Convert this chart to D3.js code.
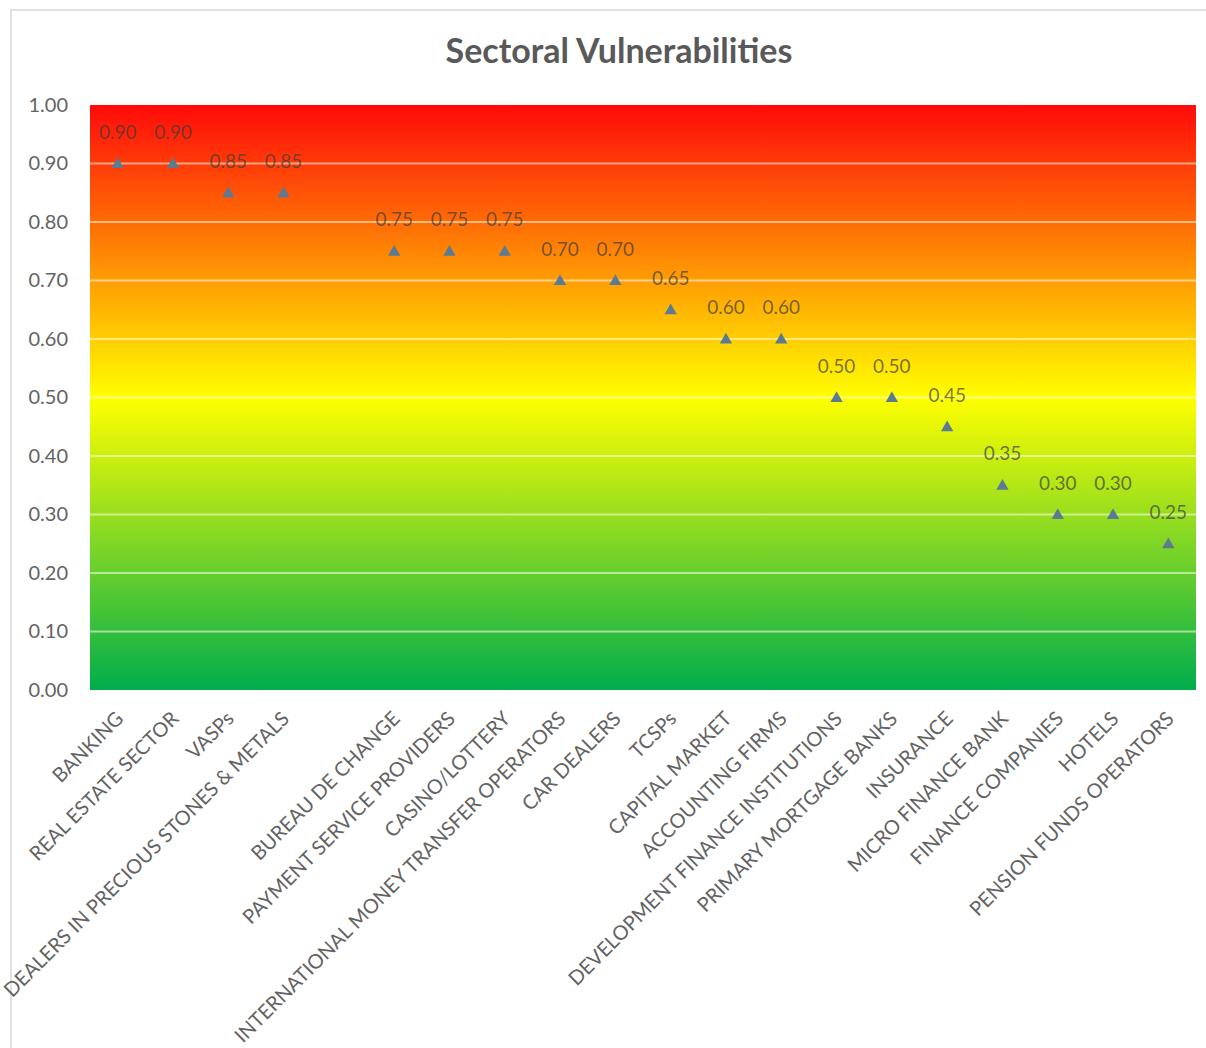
<!DOCTYPE html>
<html>
<head>
<meta charset="utf-8">
<script src="https://cdn.jsdelivr.net/npm/d3@7"></script>
<style>
  body { margin: 0; background: #fff; }
  text { font-family: Lato, "Open Sans", sans-serif; }
</style>
</head>
<body>
<script>
const svgWidth = 1206
const svgHeight = 1048

const sectors = [
  "BANKING", "REAL ESTATE SECTOR", "VASPs", "DEALERS IN PRECIOUS STONES & METALS", "",
  "BUREAU DE CHANGE", "PAYMENT SERVICE PROVIDERS", "CASINO/LOTTERY",
  "INTERNATIONAL MONEY TRANSFER OPERATORS", "CAR DEALERS", "TCSPs", "CAPITAL MARKET",
  "ACCOUNTING FIRMS", "DEVELOPMENT FINANCE INSTITUTIONS", "PRIMARY MORTGAGE BANKS",
  "INSURANCE", "MICRO FINANCE BANK", "FINANCE COMPANIES", "HOTELS", "PENSION FUNDS OPERATORS"
]
const vulnerability = [
  0.90, 0.90, 0.85, 0.85, null,
  0.75, 0.75, 0.75, 0.70, 0.70, 0.65, 0.60,
  0.60, 0.50, 0.50, 0.45, 0.35, 0.30, 0.30, 0.25
]
const yTicks = [0, 0.1, 0.2, 0.3, 0.4, 0.5, 0.6, 0.7, 0.8, 0.9, 1.0]

const margin = { top: 105, right: 10, bottom: 358, left: 90 }
const chartWidth = 1196 - margin.left
const chartHeight = svgHeight - margin.top - margin.bottom

const svg = d3.select("body").append("svg")
    .attr("width", svgWidth)
    .attr("height", svgHeight)

// chart frame (only top and left edges show in the picture)
svg.append("rect")
    .attr("x", 11).attr("y", 10)
    .attr("width", 1300).attr("height", 1200)
    .attr("fill", "none")
    .attr("stroke", "#d9d9d9")
    .attr("stroke-width", 1.5)

svg.append("text")
    .attr("x", 619).attr("y", 63)
    .attr("text-anchor", "middle")
    .attr("font-size", 34)
    .attr("font-weight", "bold")
    .attr("fill", "#595959")
    .text("Sectoral Vulnerabilities")

const grad = svg.append("defs").append("linearGradient")
    .attr("id", "risk")
    .attr("x1", 0).attr("y1", 0).attr("x2", 0).attr("y2", 1)
grad.append("stop").attr("offset", "0%").attr("stop-color", "#ff0a0a")
grad.append("stop").attr("offset", "50%").attr("stop-color", "#ffff00")
grad.append("stop").attr("offset", "100%").attr("stop-color", "#00ad4c")

const chartG = svg.append("g")
    .attr("transform", `translate(${margin.left}, ${margin.top})`)

const x = d3.scaleBand()
    .domain(sectors.map((d, i) => i))
    .range([0, chartWidth])

const y = d3.scaleLinear()
    .domain([0, 1])
    .range([chartHeight, 0])

chartG.append("rect")
    .attr("width", chartWidth)
    .attr("height", chartHeight)
    .attr("fill", "url(#risk)")

chartG.append("g")
  .selectAll("line")
  .data(yTicks.filter(t => t > 0 && t < 1))
  .enter()
  .append("line")
    .attr("x1", 0).attr("x2", chartWidth)
    .attr("y1", d => y(d)).attr("y2", d => y(d))
    .attr("stroke", "rgba(255,255,235,0.55)")
    .attr("stroke-width", 2)

const yAxis = d3.axisLeft(y)
    .tickValues(yTicks)
    .tickFormat(d3.format(".2f"))
    .tickSize(0)
    .tickPadding(22)

chartG.append("g")
    .call(yAxis)
    .call(g => g.select(".domain").remove())
    .selectAll("text")
    .attr("font-size", 20)
    .attr("font-family", "Lato, sans-serif")
    .attr("fill", "#636363")

const xAxis = d3.axisBottom(x)
    .tickFormat(i => sectors[i])
    .tickSize(0)

chartG.append("g")
    .attr("transform", `translate(0, ${chartHeight})`)
    .call(xAxis)
    .call(g => g.select(".domain").remove())
    .selectAll("text")
    .attr("font-size", 20)
    .attr("font-family", "Lato, sans-serif")
    .attr("fill", "#636363")
    .attr("text-anchor", "end")
    .attr("y", 0)
    .attr("dy", "0.35em")
    .attr("transform", "translate(2, 25) rotate(-45)")

const points = sectors
    .map((s, i) => ({ i, v: vulnerability[i] }))
    .filter(d => d.v !== null)

chartG.selectAll(".marker")
    .data(points)
    .enter()
    .append("path")
    .attr("class", "marker")
    .attr("d", d3.symbol(d3.symbolTriangle, 66))
    .attr("transform", d => `translate(${x(d.i) + x.bandwidth() / 2}, ${y(d.v) + 1})`)
    .attr("fill", "#5b7b93")

chartG.selectAll(".value")
    .data(points)
    .enter()
    .append("text")
    .attr("class", "value")
    .attr("x", d => x(d.i) + x.bandwidth() / 2)
    .attr("y", d => y(d.v) - 25)
    .attr("text-anchor", "middle")
    .attr("font-size", 19)
    .attr("fill", "rgba(60,60,60,0.7)")
    .text(d => d3.format(".2f")(d.v))
</script>
</body>
</html>
